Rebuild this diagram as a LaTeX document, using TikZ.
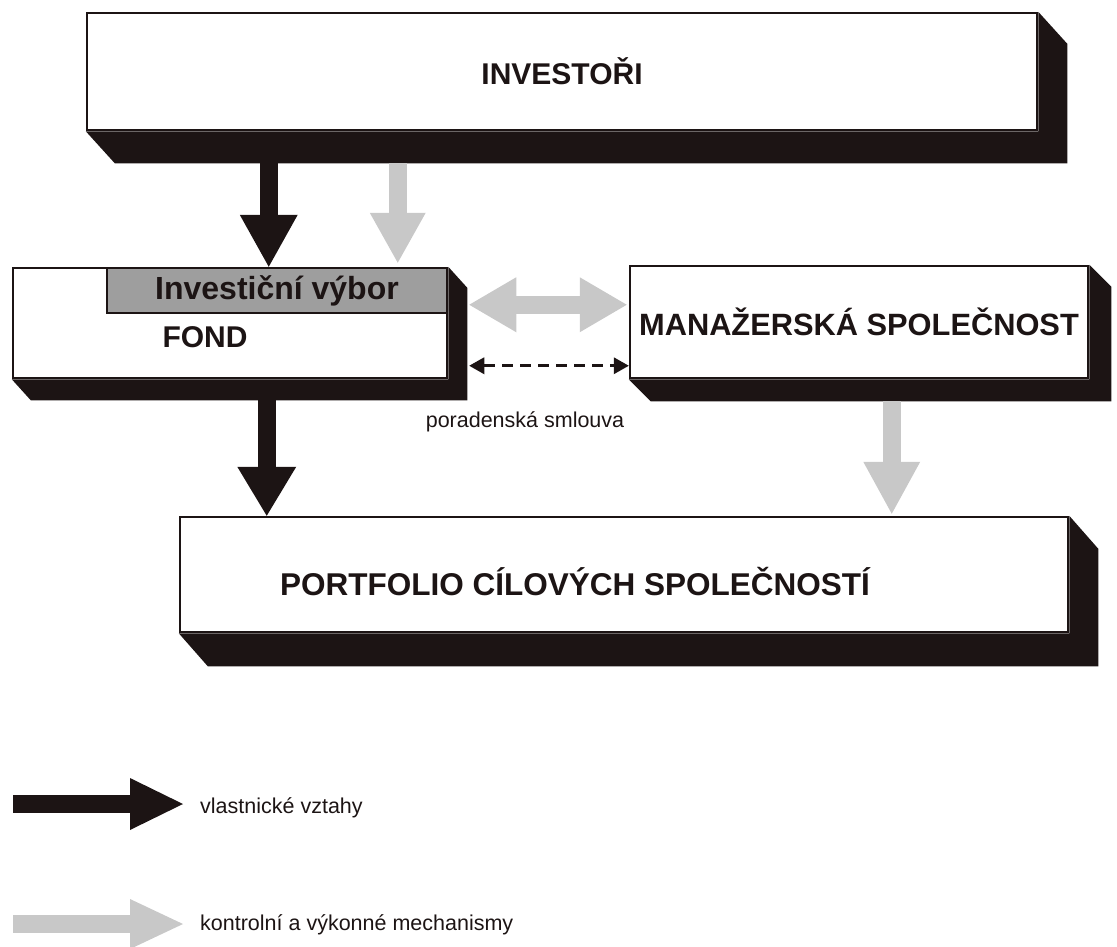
\documentclass[tikz,border=0pt]{standalone}
\usepackage{fontspec}
\setmainfont{Liberation Sans}
\usepackage{tikz}
\usetikzlibrary{arrows.meta,positioning}
\definecolor{ink}{RGB}{28, 20, 20}
\definecolor{halftone}{RGB}{200, 200, 200}
\definecolor{committee}{RGB}{158, 158, 158}

% dark block under and right of a box
\newcommand{\boxshadow}[3]{%
  \fill[ink] (#1.south west) -- ++(#2,#3) -- ([shift={(#2,#3)}]#1.south east)
    -- ([shift={(#2,#3)}]#1.north east) -- (#1.north east) -- (#1.south east) -- cycle;}

\begin{document}
\begin{tikzpicture}[x=1pt, y=-1pt,
    box/.style={draw=ink, line width=2.5pt, fill=white, inner sep=0pt},
    title/.style={font=\bfseries\fontsize{30}{36}\selectfont, text=ink},
    bigtitle/.style={font=\bfseries\fontsize{31.5}{38}\selectfont, text=ink},
    note/.style={font=\fontsize{21.5}{26}\selectfont, text=ink},
    own/.style={ink, line width=18pt, -{Triangle[length=52pt,width=58pt,line width=0pt]}},
    ctrl/.style={halftone, line width=18pt, -{Triangle[length=50pt,width=56pt,line width=0pt]}}]
    \useasboundingbox (0,0) rectangle (1117,946);

    % Boxes
    \node[box, minimum width=950pt, minimum height=117pt, title] (invest) at (562,71.5) {INVESTOŘI};
    \node[box, minimum width=434pt, minimum height=110pt] (fond) at (230,323) {};
    \node[box, fill=committee, minimum width=340pt, minimum height=45pt, font=\bfseries\fontsize{32}{38}\selectfont, text=ink] (vybor) at (277,290.5) {Investiční výbor};
    \node[title] (fondtxt) at (205,337) {FOND};
    \node[box, minimum width=458pt, minimum height=112pt, font=\bfseries\fontsize{30.8}{37}\selectfont, text=ink] (mgr) at (859,322) {MANAŽERSKÁ SPOLEČNOST};
    \node[box, minimum width=888pt, minimum height=115pt] (portf) at (624,574.5) {};
    \node[bigtitle] (portftxt) at (575,582) {PORTFOLIO CÍLOVÝCH SPOLEČNOSTÍ};

    \boxshadow{invest}{29}{32}
    \boxshadow{fond}{19}{21}
    \boxshadow{mgr}{22}{22}
    \boxshadow{portf}{29}{33}

    % Arrows between boxes
    \draw[own] ([shift={(183,32)}]invest.south west) coordinate (o1) -- (o1 |- vybor.north);
    \draw[ctrl, shorten >=4pt] ([shift={(312,32)}]invest.south west) coordinate (c1) -- (c1 |- vybor.north);
    \draw[halftone, line width=18pt, arrows={Triangle[length=47pt,width=55pt,line width=0pt]-Triangle[length=47pt,width=55pt,line width=0pt]}, shorten >=2pt]
        ([shift={(21,38)}]fond.north east) coordinate (c2) -- (c2 -| mgr.west);
    \draw[ink, line width=3pt, dash pattern=on 11pt off 7pt, arrows={Triangle[length=15pt,width=17pt,line width=0pt]-Triangle[length=15pt,width=17pt,line width=0pt]}]
        ([shift={(21,99)}]fond.north east) coordinate (d1) -- (d1 -| mgr.west);
    \node[note] (smlouva) at (525,422) {poradenská smlouva};
    \draw[own, -{Triangle[length=49pt,width=59pt,line width=0pt]}] ([shift={(255,21)}]fond.south west) coordinate (o2) -- (o2 |- portf.north);
    \draw[ctrl, -{Triangle[length=52pt,width=57pt,line width=0pt]}, shorten >=2pt] ([shift={(263,22)}]mgr.south west) coordinate (c3) -- (c3 |- portf.north);

    % Legend
    \coordinate (lg1) at (13,804);
    \coordinate (lg2) at (13,924);
    \node[note, anchor=west, inner sep=0pt] (legtxt1) at (200,808) {vlastnické vztahy};
    \node[note, anchor=west, inner sep=0pt] (legtxt2) at (200,925) {kontrolní a výkonné mechanismy};
    \draw[own, -{Triangle[length=53pt,width=52pt,line width=0pt]}, shorten >=17pt] (lg1) -- (lg1 -| legtxt1.west);
    \draw[ctrl, -{Triangle[length=53pt,width=50pt,line width=0pt]}, shorten >=17pt] (lg2) -- (lg2 -| legtxt2.west);
\end{tikzpicture}
\end{document}
